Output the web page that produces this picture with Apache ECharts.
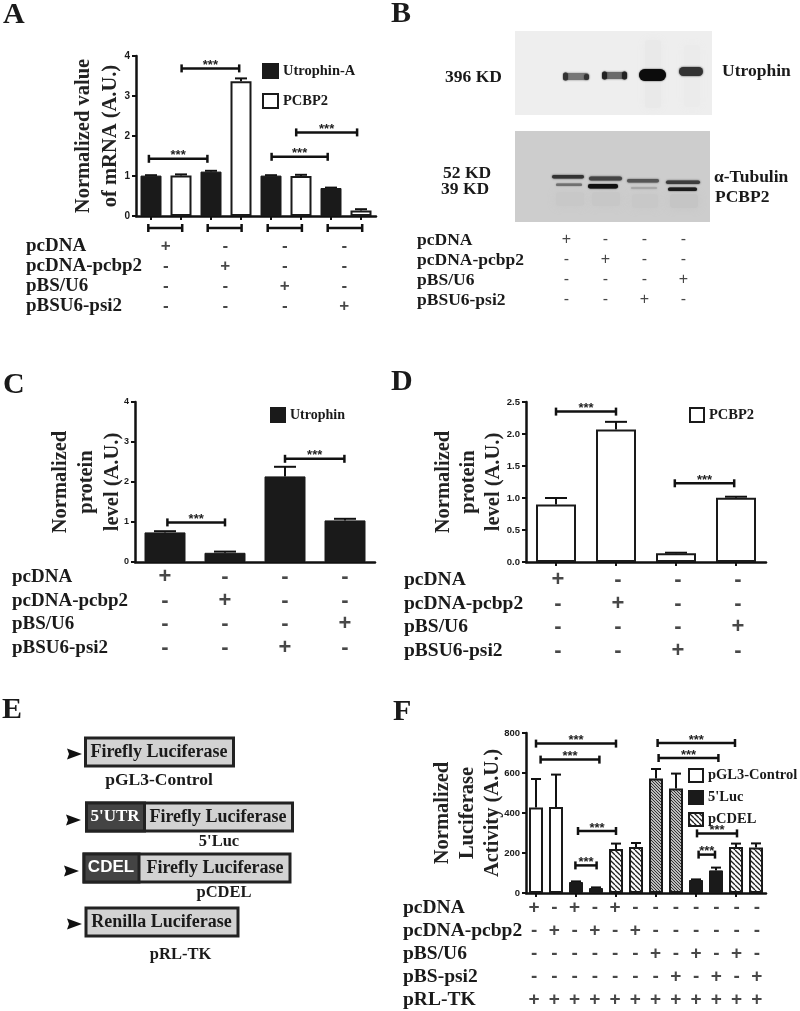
<!DOCTYPE html>
<html>
<head>
<meta charset="utf-8">
<style>
html,body{margin:0;padding:0;background:#fff;}
#main{width:800px;height:1011px;}
</style>
<script src="https://cdn.jsdelivr.net/npm/echarts@6/dist/echarts.min.js"></script>
</head>
<body>
<div id="main"></div>
<script>
// panel A
const aLanes = ['a1','a2','a3','a4','a5','a6','a7','a8'];
const aUtrophin = [1.01,null,1.11,null,1.01,null,0.7,null];
const aPcbp2 = [null,1.01,null,3.37,null,1.0,null,0.14];
const aErrors = [0.01,0.03,0.02,0.07,0.01,0.03,0.01,0.03];
const aBrackets = [[-0.07,1.88,1.43],[1.02,2.94,3.69],[4.02,5.89,1.48],[4.84,6.87,2.09]];
const aUnderBrackets = [[-0.09,1.04,-0.3],[1.89,3.02,-0.3],[3.89,5.03,-0.3],[5.89,7.04,-0.3]];
// panel C
const cLanes = ['c1','c2','c3','c4'];
const cUtrophin = [0.74,0.23,2.14,1.04];
const cErrors = [0.03,0.03,0.24,0.04];
const cBrackets = [[0.04,1.0,0.99],[2.0,2.99,2.58]];
// panel D
const dLanes = ['d1','d2','d3','d4'];
const dPcbp2 = [0.9,2.07,0.135,1.005];
const dErrors = [0.1,0.12,0.01,0.015];
const dBrackets = [[0.0,1.0,2.35],[1.98,2.97,1.23]];
// panel F
const fLanes = ['f1','f2','f3','f4','f5','f6','f7','f8','f9','f10','f11','f12'];
const fControl = [428,430,null,null,null,null,null,null,null,null,null,null];
const fLuc = [null,null,55,25,null,null,null,null,65,113,null,null];
const fCdel = [null,null,null,null,220,230,null,null,null,null,230,227];
const fControlBS = [null,null,null,null,null,null,572,523,null,null,null,null];
const fErrors = [142,162,3,3,27,20,48,74,3,14,17,21];
const fBrackets = [[0,4,747],[0.23,3.17,667],[2.1,4,310],[1.97,3.03,138],[6.08,9.95,750],[6.13,9.12,675],[8.05,10.05,298],[8.13,8.95,192]];
// treatment tables
const rowsABCD = ['pcDNA','pcDNA-pcbp2','pBS/U6','pBSU6-psi2'];
const rowsF = ['pcDNA','pcDNA-pcbp2','pBS/U6','pBS-psi2','pRL-TK'];
const marksA = ['+---','-+--','--+-','---+'];
const marksBCD = ['+---','-+--','---+','--+-'];
const marksF = ['+-+-+-------','-+-+-+------','------+-+-+-','-------+-+-+','++++++++++++'];

const SERIF = '"Liberation Serif"';
const SANS = '"Liberation Sans"';
const INK = '#1a1a1a';

function hatch(bg,line,step,lw){
    let c = document.createElement('canvas');
    c.width = step; c.height = step;
    let g = c.getContext('2d');
    g.fillStyle = bg; g.fillRect(0,0,step,step);
    g.strokeStyle = line; g.lineWidth = lw;
    for(let i=-step;i<=step*2;i+=step){
        g.beginPath();
        g.moveTo(i,0); g.lineTo(i+step,step);
        g.stroke();
    }
    return {image:c,repeat:'repeat'};
}
const solidStyle = {color:INK,borderColor:INK,borderWidth:1};
const whiteStyle = {color:'#fff',borderColor:INK,borderWidth:2};
const sparseStyle = {color:hatch('#fff','#222',5,1.3),borderColor:INK,borderWidth:2};
const denseStyle = {color:hatch('#bbb','#333',3,1),borderColor:INK,borderWidth:2};

let grid=[],xAxis=[],yAxis=[],series=[],legend=[];

// chart panel: category axis for the bars, hidden value axis for the brackets
function addPanel(p){
    let g = grid.length, x = xAxis.length, y = yAxis.length;
    grid.push({left:p.left,top:p.top,width:p.width,height:p.height});
    xAxis.push({type:'category',gridIndex:g,data:p.lanes,
        axisLine:{lineStyle:{color:'#111',width:2.5}},
        axisTick:{show:p.ticks,alignWithLabel:true,length:4,lineStyle:{color:'#111',width:2}},
        axisLabel:{show:false}});
    xAxis.push({type:'value',gridIndex:g,show:false,min:-0.5,max:p.lanes.length-0.5,splitLine:{show:false}});
    yAxis.push({type:'value',gridIndex:g,min:0,max:p.max,interval:p.step,
        name:p.title,nameLocation:'middle',nameRotate:90,nameGap:p.nameGap,nameMoveOverlap:false,
        nameTextStyle:{fontFamily:SERIF,fontWeight:'bold',fontSize:20.5,lineHeight:p.nameLine,color:'#222'},
        axisLine:{show:true,onZero:false,lineStyle:{color:'#111',width:2.5}},
        axisTick:{show:true,length:4,lineStyle:{color:'#111',width:2}},
        axisLabel:{fontFamily:SANS,fontWeight:'bold',fontSize:p.tickSize,margin:6,color:INK,formatter:p.tickFmt},
        splitLine:{show:false}});
    p.bars.forEach(function(b){
        series.push({type:'bar',name:b.name,xAxisIndex:x,yAxisIndex:y,data:b.data,
            barWidth:p.barWidth,barGap:'-100%',itemStyle:b.style,z:3});
    });
    series.push({type:'custom',xAxisIndex:x,yAxisIndex:y,z:2,clip:false,
        data:p.errors.map(function(e,i){
            let v = 0;
            p.bars.forEach(function(b){ if(b.data[i]!=null) v = b.data[i]; });
            return [i,v,e];
        }),
        renderItem:function(params,api){
            let low = api.coord([api.value(0),api.value(1)]);
            let top = api.coord([api.value(0),api.value(1)+api.value(2)]);
            let s = {stroke:'#111',lineWidth:2};
            return {type:'group',children:[
                {type:'line',shape:{x1:low[0],y1:low[1],x2:top[0],y2:top[1]},style:s},
                {type:'line',shape:{x1:top[0]-p.cap,y1:top[1],x2:top[0]+p.cap,y2:top[1]},style:s}
            ]};
        }});
    addBrackets(p.brackets,x+1,y,true);
    if(p.under) addBrackets(p.under,x+1,y,false);
}
function addBrackets(list,x,y,stars){
    series.push({type:'custom',xAxisIndex:x,yAxisIndex:y,z:4,clip:false,data:list,
        renderItem:function(params,api){
            let a = api.coord([api.value(0),api.value(2)]);
            let b = api.coord([api.value(1),api.value(2)]);
            let s = {stroke:'#111',lineWidth:2.5};
            let kids = [
                {type:'line',shape:{x1:a[0],y1:a[1],x2:b[0],y2:b[1]},style:s},
                {type:'line',shape:{x1:a[0],y1:a[1]-4,x2:a[0],y2:a[1]+4},style:s},
                {type:'line',shape:{x1:b[0],y1:b[1]-4,x2:b[0],y2:b[1]+4},style:s}
            ];
            if(stars) kids.push({type:'text',x:(a[0]+b[0])/2,y:a[1]-3,style:{text:'***',
                font:'bold 13px '+SANS,fill:'#222',align:'center',verticalAlign:'middle',
                textAlign:'center',textVerticalAlign:'middle'}});
            return {type:'group',children:kids};
        }});
}
// +/- table under a panel
function addTable(t){
    let g = grid.length, x = xAxis.length, y = yAxis.length;
    grid.push({left:t.left,top:t.top,width:t.width,height:t.height});
    xAxis.push({type:'category',gridIndex:g,show:false,data:t.marks[0].split('').map(function(m,i){return i;})});
    yAxis.push({type:'category',gridIndex:g,inverse:true,data:t.rows,
        axisLine:{show:false},axisTick:{show:false},splitLine:{show:false},
        axisLabel:{interval:0,align:'left',margin:t.left-t.labelX,fontFamily:SERIF,fontWeight:'bold',fontSize:t.labelSize,color:INK}});
    let pts = [];
    t.marks.forEach(function(row,r){
        row.split('').forEach(function(m,c){ pts.push([c,r,m]); });
    });
    series.push({type:'scatter',xAxisIndex:x,yAxisIndex:y,data:pts,symbolSize:1,
        itemStyle:{color:'transparent'},
        label:{show:true,position:'inside',formatter:function(p){return p.value[2];},
            fontFamily:SANS,fontWeight:t.signWeight||'bold',fontSize:t.signSize,color:INK}});
}

addPanel({left:136,top:56,width:240,height:160,lanes:aLanes,max:4,step:1,ticks:true,tickSize:10,
    title:'Normalized value\nof mRNA (A.U.)',nameGap:12,nameLine:27,barWidth:21,cap:6,
    bars:[{name:'Utrophin-A',data:aUtrophin,style:solidStyle},{name:'PCBP2',data:aPcbp2,style:whiteStyle}],
    errors:aErrors,brackets:aBrackets,under:aUnderBrackets});
addPanel({left:135,top:402,width:240,height:160,lanes:cLanes,max:4,step:1,ticks:false,tickSize:9,
    title:'Normalized\nprotein\nlevel (A.U.)',nameGap:9,nameLine:26,barWidth:41,cap:11,
    bars:[{name:'Utrophin',data:cUtrophin,style:solidStyle}],
    errors:cErrors,brackets:cBrackets});
addPanel({left:526,top:402,width:240,height:160,lanes:dLanes,max:2.5,step:0.5,ticks:true,tickSize:9.5,
    tickFmt:function(v){return v.toFixed(1);},
    title:'Normalized\nprotein\nlevel (A.U.)',nameGap:20,nameLine:25,barWidth:40,cap:11,
    bars:[{name:'PCBP2',data:dPcbp2,style:whiteStyle}],
    errors:dErrors,brackets:dBrackets});
addPanel({left:526,top:733,width:240,height:160,lanes:fLanes,max:800,step:200,ticks:true,tickSize:9.5,
    title:'Normalized\nLuciferase\nActivity (A.U.)',nameGap:21,nameLine:25,barWidth:14,cap:5,
    bars:[{name:'pGL3-Control',data:fControl,style:whiteStyle},{name:"5'Luc",data:fLuc,style:solidStyle},
        {name:'pCDEL',data:fCdel,style:sparseStyle},{name:'pGL3-Control (pBS)',data:fControlBS,style:denseStyle}],
    errors:fErrors,brackets:fBrackets});

addTable({left:136,top:236,width:238,height:80,rows:rowsABCD,marks:marksA,labelX:26,labelSize:19,signSize:17});
addTable({left:547,top:230,width:156,height:80,rows:rowsABCD,marks:marksBCD,labelX:417,labelSize:17.5,signSize:16,signWeight:'normal'});
addTable({left:135,top:565,width:240,height:95,rows:rowsABCD,marks:marksBCD,labelX:12,labelSize:19,signSize:22});
addTable({left:528,top:568,width:240,height:95,rows:rowsABCD,marks:marksBCD,labelX:404,labelSize:19.5,signSize:22});
addTable({left:524,top:896,width:243,height:118,rows:rowsF,marks:marksF,labelX:403,labelSize:19.5,signSize:19});

function makeLegend(names,left,top,gap,w,h,size){
    legend.push({data:names,left:left,top:top,orient:'vertical',itemGap:gap,itemWidth:w,itemHeight:h,
        icon:'rect',selectedMode:false,padding:0,
        textStyle:{fontFamily:SERIF,fontWeight:'bold',fontSize:size,color:INK}});
}
makeLegend(['Utrophin-A','PCBP2'],262,63,14,15,14,14.5);
makeLegend(['Utrophin'],270,407,10,14,14,14);
makeLegend(['PCBP2'],689,407,10,14,14,14.5);
makeLegend(['pGL3-Control',"5'Luc",'pCDEL'],688,768,7,14,13,14.5);

// panel letters, western blots and the construct diagram are plain drawing
let gfx = [];
function txt(x,y,s,size,fill,align,family){
    gfx.push({type:'text',x:x,y:y,z:20,style:{text:s,fill:fill||INK,
        font:'bold '+size+'px '+(family||SERIF),
        align:align||'left',textAlign:align||'left',verticalAlign:'middle',textVerticalAlign:'middle'}});
}
function box(x,y,w,h,fill,stroke,lw){
    gfx.push({type:'rect',z:10,shape:{x:x,y:y,width:w,height:h},
        style:{fill:fill,stroke:stroke||null,lineWidth:lw||0}});
}
function band(x,y,w,h,color,blur){
    gfx.push({type:'rect',z:12,shape:{x:x,y:y,width:w,height:h,r:h/2},
        style:{fill:color,shadowBlur:blur,shadowColor:color}});
}
function smear(x,y,w,h,color){
    gfx.push({type:'rect',z:11,shape:{x:x,y:y,width:w,height:h,r:3},
        style:{fill:color,shadowBlur:10,shadowColor:color}});
}
function arrow(x,y){
    gfx.push({type:'polygon',z:12,shape:{points:[[x,y-5.5],[x+15,y],[x,y+5.5],[x+2,y]]},style:{fill:'#111'}});
}

txt(3,15,'A',30); txt(391,14,'B',30); txt(3,385,'C',30); txt(391,382,'D',30); txt(2,710,'E',30); txt(393,712,'F',30);

// blot B, top
box(515,31,197,84,'#eeeeee');
smear(645,40,16,68,'#e9e9e9');
smear(684,45,16,62,'#ebebeb');
band(564,73,25,7,'#777',2);
band(563,72.5,5,8,'#333',1.5);
band(584,74,5,6,'#333',1.5);
band(603,72,24,7,'#6a6a6a',2);
band(602,71.5,5,8,'#222',1.5);
band(622,71.5,5,8,'#222',1.5);
band(639,69,27,12,'#0c0c0c',1.5);
band(679,67,24,9,'#333',2);
// blot B, bottom
box(515,131,195,91,'#cdcdcd');
smear(556,192,28,14,'#c8c8c8');
smear(592,192,28,14,'#c7c7c7');
smear(632,194,26,14,'#c8c8c8');
smear(670,194,28,14,'#c5c5c5');
band(552,175,32,3.5,'#333',2);
band(589,176.5,33,4,'#444',2);
band(627,179,32,3.5,'#555',2);
band(666,180.5,34,3.5,'#3c3c3c',2);
band(556,183.5,26,2.5,'#707070',1.5);
band(588,184,30,4.5,'#111',1.5);
band(631,187,26,2,'#a8a8a8',2);
band(668,187.5,29,3.5,'#1c1c1c',1.5);

txt(445,77,'396 KD',17.5); txt(722,71,'Utrophin',17.5);
txt(443,173,'52 KD',17.5); txt(441,189,'39 KD',17.5);
txt(714,177,'α-Tubulin',17.5); txt(715,197,'PCBP2',17.5);

// panel E
const GREY = '#d2d2d2', DARK = '#444', EDGE = '#222';
box(85.5,738,148,28,GREY,EDGE,3);
txt(159,752,'Firefly Luciferase',18,INK,'center');
txt(159,780,'pGL3-Control',17.5,INK,'center');
arrow(67,754);
box(86.5,803,206,28,GREY,EDGE,3);
box(86.5,803,58,28,DARK,EDGE,3);
txt(115,817,"5'UTR",17,'#fff','center');
txt(218,817,'Firefly Luciferase',18,INK,'center');
txt(219,842,"5'Luc",16.5,INK,'center');
arrow(66,820);
box(84,854,206,28,GREY,EDGE,3);
box(84,854,55,28,DARK,EDGE,3);
txt(111,867,'CDEL',17,'#fff','center',SANS);
txt(215,868,'Firefly Luciferase',18,INK,'center');
txt(224,893,'pCDEL',16.5,INK,'center');
arrow(64,871);
box(86,908,152,28,GREY,EDGE,3);
txt(161.5,922,'Renilla Luciferase',18,INK,'center');
txt(180.5,955,'pRL-TK',16.5,INK,'center');
arrow(67,924);

let chart = echarts.init(document.getElementById('main'),null,{renderer:'canvas'});
chart.setOption({
    animation:false,
    backgroundColor:'#fff',
    tooltip:{show:false},
    grid:grid,xAxis:xAxis,yAxis:yAxis,legend:legend,series:series,
    graphic:{elements:gfx}
});
</script>
</body>
</html>
